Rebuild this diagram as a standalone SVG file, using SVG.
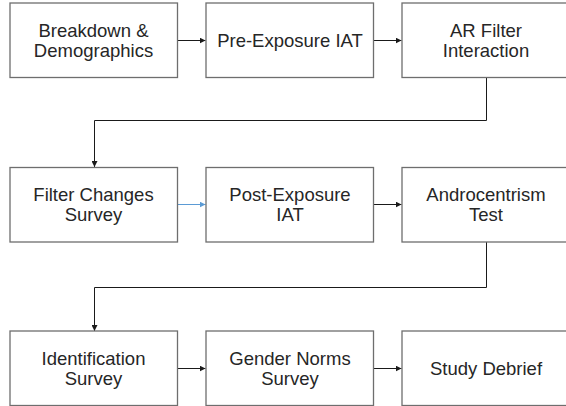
<svg xmlns="http://www.w3.org/2000/svg" width="566" height="406" viewBox="0 0 566 406">
<style>
.box{fill:#ffffff;stroke:#6e6e6e;stroke-width:1.3}
.t{font-family:"Liberation Sans",Arial,sans-serif;font-size:18.5px;fill:#262626;text-anchor:middle}
.c{fill:none;stroke:#1a1a1a;stroke-width:1}
.cb{fill:none;stroke:#5b9bd5;stroke-width:1}
</style>
<defs>
<marker id="ah" viewBox="0 0 10 10" refX="10" refY="5" markerWidth="6" markerHeight="6" markerUnits="userSpaceOnUse" orient="auto"><path d="M0,0 L10,5 L0,10 z" fill="#1a1a1a"/></marker>
<marker id="ahb" viewBox="0 0 10 10" refX="10" refY="5" markerWidth="6" markerHeight="6" markerUnits="userSpaceOnUse" orient="auto"><path d="M0,0 L10,5 L0,10 z" fill="#5b9bd5"/></marker>
</defs>
<rect width="566" height="406" fill="#ffffff"/>
<g id="connectors">
<path class="c" d="M177.5,40.5 H205.5" marker-end="url(#ah)"/>
<path class="c" d="M373.5,40.5 H401.5" marker-end="url(#ah)"/>
<path class="c" d="M486.5,77 V120.5 H94.5 V167" marker-end="url(#ah)"/>
<path class="cb" d="M177.5,204.5 H205.5" marker-end="url(#ahb)"/>
<path class="c" d="M373.5,204.5 H401.5" marker-end="url(#ah)"/>
<path class="c" d="M486.5,242 V287.5 H94.5 V331" marker-end="url(#ah)"/>
<path class="c" d="M177.5,368.5 H205.5" marker-end="url(#ah)"/>
<path class="c" d="M373.5,368.5 H401.5" marker-end="url(#ah)"/>
</g>
<g id="n1"><rect class="box" x="10" y="3" width="167.5" height="74.5"/><text class="t" x="93.5" y="36.5">Breakdown &amp;</text><text class="t" x="93.5" y="56.5">Demographics</text></g>
<g id="n2"><rect class="box" x="206" y="3" width="167.5" height="74.5"/><text class="t" x="290" y="46.5">Pre-Exposure IAT</text></g>
<g id="n3"><rect class="box" x="402" y="3" width="168" height="74.5"/><text class="t" x="486" y="36.5">AR Filter</text><text class="t" x="486" y="56.5">Interaction</text></g>
<g id="n4"><rect class="box" x="10" y="167.5" width="167.5" height="74.5"/><text class="t" x="93.5" y="200.5">Filter Changes</text><text class="t" x="93.5" y="220.5">Survey</text></g>
<g id="n5"><rect class="box" x="206" y="167.5" width="167.5" height="74.5"/><text class="t" x="290" y="200.5">Post-Exposure</text><text class="t" x="290" y="220.5">IAT</text></g>
<g id="n6"><rect class="box" x="402" y="167.5" width="168" height="74.5"/><text class="t" x="486" y="200.5">Androcentrism</text><text class="t" x="486" y="220.5">Test</text></g>
<g id="n7"><rect class="box" x="10" y="331" width="167.5" height="74.5"/><text class="t" x="93.5" y="364.5">Identification</text><text class="t" x="93.5" y="384.5">Survey</text></g>
<g id="n8"><rect class="box" x="206" y="331" width="167.5" height="74.5"/><text class="t" x="290" y="364.5">Gender Norms</text><text class="t" x="290" y="384.5">Survey</text></g>
<g id="n9"><rect class="box" x="402" y="331" width="168" height="74.5"/><text class="t" x="486" y="374.5">Study Debrief</text></g>
</svg>
